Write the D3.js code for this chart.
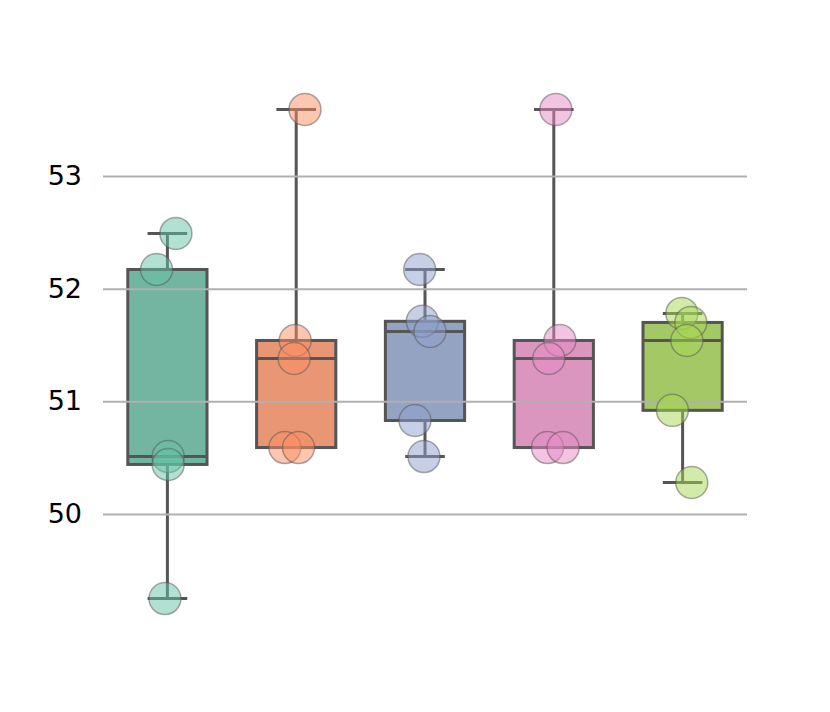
<!DOCTYPE html>
<html>
<head>
<meta charset="utf-8">
<script src="https://cdn.jsdelivr.net/npm/d3@7"></script>
<style>
  body { margin: 0; background: #fff; }
  svg { display: block; font-family: "DejaVu Sans", sans-serif; }
</style>
</head>
<body>
<div id="chart"></div>
<script>
// data
const groups = ['A', 'B', 'C', 'D', 'E'];
const values = [
    [52.49, 52.17, 50.51, 50.44, 49.25],
    [53.59, 51.54, 51.38, 50.59, 50.59],
    [52.17, 51.71, 51.62, 50.83, 50.51],
    [53.59, 51.54, 51.38, 50.59, 50.59],
    [51.78, 51.70, 51.54, 50.92, 50.28]
];
// horizontal jitter of each point, in category widths
const jitter = [
    [0.066, -0.084, 0.006, 0.006, -0.019],
    [0.068, -0.008, -0.016, -0.088, 0.018],
    [-0.041, -0.021, 0.039, -0.078, -0.008],
    [0.016, 0.047, -0.039, -0.049, 0.072],
    [-0.006, 0.064, 0.033, -0.079, 0.071]
];
const yTicks = [50, 51, 52, 53];
const boxColors = ['#72b6a1', '#e99675', '#95a3c3', '#db96c0', '#a4c865'];
const pointColors = ['#66c2a5', '#fc8d62', '#8da0cb', '#e78ac3', '#a6d854'];

const width = 830, height = 712;
const margin = { top: 85, right: 83, bottom: 89, left: 103 };

const svg = d3.select('#chart').append('svg')
    .attr('width', width)
    .attr('height', height);

const x = d3.scaleBand()
    .domain(groups)
    .range([margin.left, width - margin.right]);

const y = d3.scaleLinear()
    .domain([49.033, 53.807])
    .range([height - margin.bottom, margin.top]);

const boxW = x.bandwidth() * 0.615;
const lineColor = '#555555';

const stats = values.map(v => {
    const s = v.slice().sort(d3.ascending);
    return {
        q1: d3.quantile(s, 0.25),
        med: d3.quantile(s, 0.5),
        q3: d3.quantile(s, 0.75),
        min: s[0],
        max: s[s.length - 1]
    };
});

// boxes
const boxes = svg.append('g').selectAll('g')
    .data(groups)
    .enter()
    .append('g');

boxes.append('line')
    .attr('x1', d => x(d) + x.bandwidth() / 2)
    .attr('x2', d => x(d) + x.bandwidth() / 2)
    .attr('y1', (d, i) => y(stats[i].max))
    .attr('y2', (d, i) => y(stats[i].q3))
    .attr('stroke', lineColor).attr('stroke-width', 3);

boxes.append('line')
    .attr('x1', d => x(d) + x.bandwidth() / 2)
    .attr('x2', d => x(d) + x.bandwidth() / 2)
    .attr('y1', (d, i) => y(stats[i].q1))
    .attr('y2', (d, i) => y(stats[i].min))
    .attr('stroke', lineColor).attr('stroke-width', 3);

['max', 'min'].forEach(k => {
    boxes.append('line')
        .attr('x1', d => x(d) + x.bandwidth() / 2 - boxW / 4)
        .attr('x2', d => x(d) + x.bandwidth() / 2 + boxW / 4)
        .attr('y1', (d, i) => y(stats[i][k]))
        .attr('y2', (d, i) => y(stats[i][k]))
        .attr('stroke', lineColor).attr('stroke-width', 3);
});

boxes.append('rect')
    .attr('x', d => x(d) + (x.bandwidth() - boxW) / 2)
    .attr('width', boxW)
    .attr('y', (d, i) => y(stats[i].q3))
    .attr('height', (d, i) => y(stats[i].q1) - y(stats[i].q3))
    .attr('fill', (d, i) => boxColors[i])
    .attr('stroke', lineColor).attr('stroke-width', 3);

boxes.append('line')
    .attr('x1', d => x(d) + (x.bandwidth() - boxW) / 2)
    .attr('x2', d => x(d) + (x.bandwidth() + boxW) / 2)
    .attr('y1', (d, i) => y(stats[i].med))
    .attr('y2', (d, i) => y(stats[i].med))
    .attr('stroke', lineColor).attr('stroke-width', 3);

// grid on top of the boxes
const yAxis = svg.append('g')
    .attr('transform', 'translate(' + margin.left + ',0)')
    .call(d3.axisLeft(y)
        .tickValues(yTicks)
        .tickSize(-(width - margin.left - margin.right))
        .tickPadding(21)
        .tickFormat(d3.format('d')));

yAxis.select('.domain').remove();
yAxis.selectAll('.tick line')
    .attr('stroke', '#b0b0b0')
    .attr('stroke-width', 2);
yAxis.selectAll('.tick text')
    .attr('fill', '#000')
    .style('font-size', '27px')
    .style('font-family', '"DejaVu Sans", sans-serif');

// points
const pts = [];
values.forEach((v, i) => v.forEach((val, j) => pts.push({ g: groups[i], gi: i, v: val, j: jitter[i][j] })));

svg.append('g').selectAll('circle')
    .data(pts)
    .enter()
    .append('circle')
    .attr('cx', d => x(d.g) + x.bandwidth() / 2 + d.j * x.bandwidth())
    .attr('cy', d => y(d.v))
    .attr('r', 16)
    .attr('fill', d => pointColors[d.gi])
    .attr('fill-opacity', 0.5)
    .attr('stroke', '#555')
    .attr('stroke-opacity', 0.5)
    .attr('stroke-width', 1.5);
</script>
</body>
</html>
